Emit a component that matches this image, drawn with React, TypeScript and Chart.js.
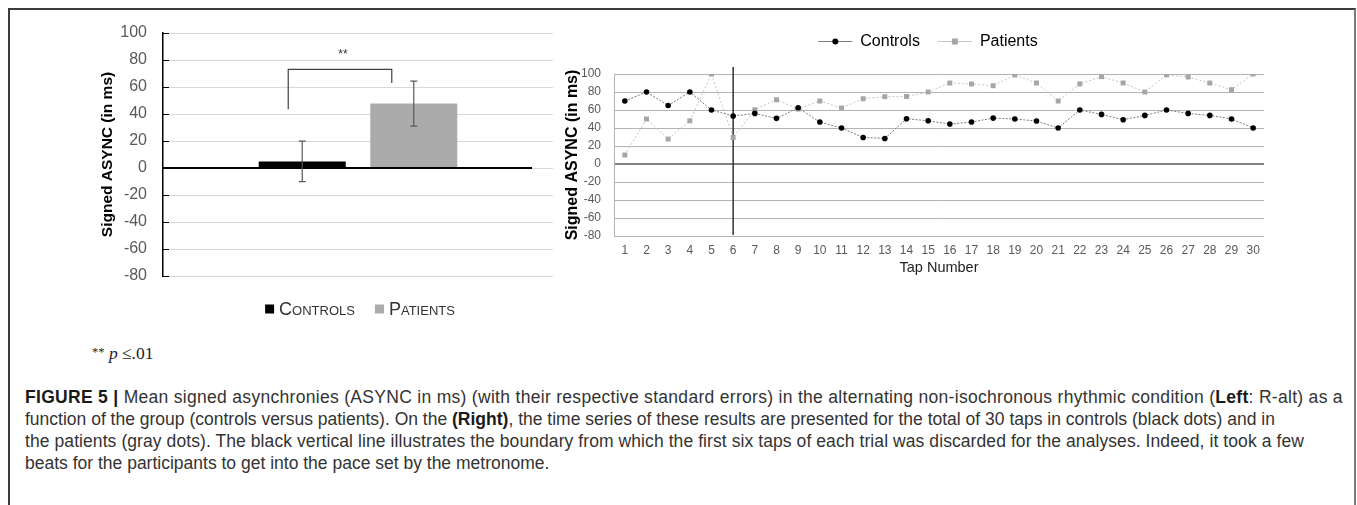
import React, { useEffect, useRef } from 'react';
import { Chart, registerables } from 'chart.js';

Chart.register(...registerables);

const FAM = '"Liberation Sans", Arial, sans-serif';

// ---- Left chart data ----
const groupLabels = ['Controls', 'Patients'];
const groupMeans = [4.9, 47.7];
const groupErrors = [15, 16.7];
const groupColors = ['#000000', '#ababab'];
const leftMin = -80;
const leftMax = 100;
const leftStep = 20;
const bracketTopValue = 73;
const bracketLeftEndValue = 43.5;
const bracketRightEndValue = 63;
const starsValue = 84;

// ---- Right chart data ----
const tapLabels = ['1', '2', '3', '4', '5', '6', '7', '8', '9', '10', '11', '12', '13', '14', '15', '16', '17', '18', '19', '20', '21', '22', '23', '24', '25', '26', '27', '28', '29', '30'];
const controlsAsync = [70, 80, 65, 80, 60, 53.3, 56.2, 50.7, 62.5, 46.6, 40, 29.5, 28.4, 50.3, 48, 44.4, 46.6, 51, 50, 47.7, 40, 60, 55.1, 49.2, 54, 60, 56.2, 54, 50, 40];
const patientsAsync = [10, 50, 27.7, 48, 100, 29.5, 60.3, 71.4, 61, 70, 62.2, 72.5, 74.8, 75, 80, 90, 88.9, 87, 98.9, 90, 70, 89, 97, 90, 80, 99, 96.7, 90, 82.6, 100];
const boundaryTap = '6';

const seriesLine = ['#7a7a7a', '#c4c4c4'];
const seriesMark = ['#000000', '#a6a6a6'];

const leftDecor = {
  id: 'leftDecor',
  afterDatasetsDraw(chart: any) {
    const { ctx, chartArea } = chart;
    const y = chart.scales.y;
    ctx.save();
    ctx.strokeStyle = '#000';
    ctx.lineWidth = 1;
    y.ticks.forEach((t: any) => {
      const py = Math.round(y.getPixelForValue(t.value)) + 0.5;
      ctx.beginPath();
      ctx.moveTo(chartArea.left, py);
      ctx.lineTo(chartArea.left + 6, py);
      ctx.stroke();
    });
    const y0 = y.getPixelForValue(0);
    ctx.lineWidth = 2;
    ctx.beginPath();
    ctx.moveTo(chartArea.left, y0);
    ctx.lineTo(chartArea.right - 21, y0);
    ctx.stroke();
    ctx.strokeStyle = '#595959';
    ctx.lineWidth = 1.2;
    chart.data.datasets.forEach((_ds: any, i: number) => {
      const bar = chart.getDatasetMeta(i).data[0];
      const x = bar.x;
      const hi = y.getPixelForValue(groupMeans[i] + groupErrors[i]);
      const lo = y.getPixelForValue(groupMeans[i] - groupErrors[i]);
      ctx.beginPath();
      ctx.moveTo(x, hi);
      ctx.lineTo(x, lo);
      ctx.moveTo(x - 3.5, hi);
      ctx.lineTo(x + 3.5, hi);
      ctx.moveTo(x - 3.5, lo);
      ctx.lineTo(x + 3.5, lo);
      ctx.stroke();
    });
    const b0 = chart.getDatasetMeta(0).data[0];
    const b1 = chart.getDatasetMeta(1).data[0];
    const xl = b0.x - 14;
    const xr = b1.x - 22;
    ctx.strokeStyle = '#404040';
    ctx.lineWidth = 1.2;
    ctx.beginPath();
    ctx.moveTo(xl, y.getPixelForValue(bracketLeftEndValue));
    ctx.lineTo(xl, y.getPixelForValue(bracketTopValue));
    ctx.lineTo(xr, y.getPixelForValue(bracketTopValue));
    ctx.lineTo(xr, y.getPixelForValue(bracketRightEndValue));
    ctx.stroke();
    ctx.fillStyle = '#333';
    ctx.font = '12px ' + FAM;
    ctx.textAlign = 'center';
    ctx.textBaseline = 'middle';
    ctx.fillText('**', (xl + xr) / 2 + 3, y.getPixelForValue(starsValue));
    ctx.restore();
  },
  afterDraw(chart: any) {
    const { ctx, chartArea } = chart;
    ctx.save();
    ctx.font = 'small-caps 18px ' + FAM;
    try { (ctx as any).fontVariantCaps = 'small-caps'; } catch (e) { /* ignore */ }
    const widths = groupLabels.map((l) => ctx.measureText(l).width);
    const box = 9;
    const gap = 5;
    const between = 20;
    const total = widths.reduce((a, w) => a + box + gap + w, 0) + between * (groupLabels.length - 1);
    let x = (chartArea.left + chartArea.right) / 2 + 2 - total / 2;
    const ly = chartArea.bottom + 33;
    ctx.textBaseline = 'middle';
    ctx.textAlign = 'left';
    groupLabels.forEach((l, i) => {
      ctx.fillStyle = groupColors[i];
      ctx.fillRect(x, ly - 4.5, box, box);
      ctx.fillStyle = '#333';
      ctx.fillText(l, x + box + gap, ly + 1);
      x += box + gap + widths[i] + between;
    });
    ctx.restore();
  },
};

const rightDecor = {
  id: 'rightDecor',
  beforeDatasetsDraw(chart: any) {
    const { ctx, chartArea } = chart;
    const x = chart.scales.x.getPixelForValue(tapLabels.indexOf(boundaryTap));
    ctx.save();
    ctx.strokeStyle = '#333';
    ctx.lineWidth = 1.5;
    ctx.beginPath();
    ctx.moveTo(x, chartArea.top - 7);
    ctx.lineTo(x, chartArea.bottom - 1);
    ctx.stroke();
    ctx.restore();
  },
  afterDraw(chart: any) {
    const { ctx, chartArea } = chart;
    const labels = chart.data.datasets.map((d: any) => d.label as string);
    ctx.save();
    ctx.font = '16px ' + FAM;
    const widths = labels.map((l: string) => ctx.measureText(l).width);
    const sym = 34;
    const gap = 8;
    const between = 18;
    const total = widths.reduce((a: number, w: number) => a + sym + gap + w, 0) + between * (labels.length - 1);
    let x = (chartArea.left + chartArea.right) / 2 - 11 - total / 2;
    const ly = 21;
    ctx.textBaseline = 'middle';
    ctx.textAlign = 'left';
    labels.forEach((l: string, i: number) => {
      ctx.strokeStyle = seriesLine[i];
      ctx.lineWidth = 1;
      ctx.beginPath();
      ctx.moveTo(x, ly + 0.5);
      ctx.lineTo(x + sym, ly + 0.5);
      ctx.stroke();
      ctx.fillStyle = seriesMark[i];
      if (i === 0) {
        ctx.beginPath();
        ctx.arc(x + sym / 2, ly + 0.5, 3, 0, Math.PI * 2);
        ctx.fill();
      } else {
        ctx.fillRect(x + sym / 2 - 3, ly - 2.5, 6, 6);
      }
      ctx.fillStyle = '#000';
      ctx.fillText(l, x + sym + gap, ly + 1);
      x += sym + gap + widths[i] + between;
    });
    ctx.restore();
  },
};

export default function App() {
  const leftRef = useRef<HTMLCanvasElement | null>(null);
  const rightRef = useRef<HTMLCanvasElement | null>(null);

  useEffect(() => {
    Chart.defaults.font.family = FAM;
    const left = new Chart(leftRef.current as HTMLCanvasElement, {
      type: 'bar',
      data: {
        labels: [''],
        datasets: groupLabels.map((g, i) => ({
          label: g,
          data: [groupMeans[i]],
          backgroundColor: groupColors[i],
          borderWidth: 0,
          categoryPercentage: 0.572,
          barPercentage: 0.78,
        })),
      },
      options: {
        responsive: true,
        maintainAspectRatio: false,
        animation: false,
        layout: { padding: { left: 0, right: 7, top: 13, bottom: 44 } },
        plugins: { legend: { display: false }, tooltip: { enabled: false } },
        scales: {
          x: { display: false },
          y: {
            min: leftMin,
            max: leftMax,
            ticks: { stepSize: leftStep, color: '#595959', font: { size: 16, family: FAM, lineHeight: 1 }, padding: 2 },
            grid: { color: '#d9d9d9', tickLength: 14, tickColor: 'rgba(0,0,0,0)' },
            border: { color: '#000', width: 1.5 },
            title: {
              display: true,
              text: 'Signed ASYNC (in ms)',
              color: '#000',
              font: { size: 15.5, weight: 'bold', family: FAM },
              padding: { top: 8, bottom: 0 },
            },
            afterFit: (s: any) => { s.width = 73; },
          },
        },
      } as any,
      plugins: [leftDecor],
    });

    const right = new Chart(rightRef.current as HTMLCanvasElement, {
      type: 'line',
      data: {
        labels: tapLabels,
        datasets: [
          {
            label: 'Controls',
            data: controlsAsync,
            borderColor: seriesLine[0],
            borderWidth: 1,
            borderDash: [2, 1.5],
            pointRadius: 2.8,
            pointBackgroundColor: seriesMark[0],
            pointBorderWidth: 0,
            tension: 0,
          },
          {
            label: 'Patients',
            data: patientsAsync,
            borderColor: seriesLine[1],
            borderWidth: 1,
            borderDash: [2, 2],
            pointStyle: 'rect',
            pointRadius: 3.5,
            pointBackgroundColor: seriesMark[1],
            pointBorderWidth: 0,
            tension: 0,
          },
        ],
      },
      options: {
        responsive: true,
        maintainAspectRatio: false,
        animation: false,
        layout: { padding: { left: 0, right: 16, top: 54, bottom: 0 } },
        plugins: { tooltip: { enabled: false }, legend: { display: false } },
        scales: {
          x: {
            type: 'category',
            offset: true,
            grid: { display: false, drawTicks: false },
            border: { display: false },
            ticks: { color: '#595959', font: { size: 12, family: FAM }, padding: 7, autoSkip: false, maxRotation: 0 },
            title: {
              display: true,
              text: 'Tap Number',
              color: '#222',
              font: { size: 14.5, family: FAM },
              padding: { top: 0, bottom: 13 },
            },
            afterFit: (s: any) => { s.height = 54; },
          },
          y: {
            min: leftMin,
            max: leftMax,
            ticks: { stepSize: leftStep, color: '#595959', font: { size: 12, family: FAM }, padding: 5 },
            grid: {
              color: (c: any) => (c.tick && c.tick.value === 0 ? '#808080' : '#b3b3b3'),
              lineWidth: (c: any) => (c.tick && c.tick.value === 0 ? 2 : 1),
              tickLength: 8,
              tickColor: 'rgba(0,0,0,0)',
            },
            border: { color: '#b3b3b3' },
            title: {
              display: true,
              text: 'Signed ASYNC (in ms)',
              color: '#000',
              font: { size: 16, weight: 'bold', family: FAM },
              padding: { top: 3, bottom: 0 },
            },
            afterFit: (s: any) => { s.width = 54; },
          },
        },
      } as any,
      plugins: [rightDecor],
    });

    return () => {
      left.destroy();
      right.destroy();
    };
  }, []);

  const captionLine = (ls: number): React.CSSProperties => ({
    whiteSpace: 'nowrap',
    height: 22,
    lineHeight: '22px',
    letterSpacing: ls + 'px',
  });
  const strong: React.CSSProperties = { color: '#1a1a1a' };

  return (
    <div style={{ position: 'relative', width: 1357, height: 505, overflow: 'hidden', background: '#fff' }}>
      <style>{'html,body{margin:0;padding:0;overflow:hidden;background:#fff}'}</style>
      <div
        style={{
          position: 'absolute',
          left: 8,
          top: 8,
          width: 1348,
          height: 520,
          boxSizing: 'border-box',
          borderTop: '2px solid #3c3c3c',
          borderLeft: '2px solid #3c3c3c',
          borderRight: '2px solid #7a7a7a',
        }}
      />
      <div style={{ position: 'absolute', left: 90, top: 20, width: 470, height: 300 }}>
        <canvas ref={leftRef} />
      </div>
      <div style={{ position: 'absolute', left: 560, top: 20, width: 720, height: 270 }}>
        <canvas ref={rightRef} />
      </div>
      <div
        style={{
          position: 'absolute',
          left: 92,
          top: 343,
          fontFamily: '"Liberation Serif", "Times New Roman", serif',
          fontSize: 17.5,
          lineHeight: '20px',
          color: '#222',
          whiteSpace: 'nowrap',
        }}
      >
        <span style={{ fontSize: 12.5, position: 'relative', top: -3 }}>**</span> <i>p</i> ≤.01
      </div>
      <div
        style={{
          position: 'absolute',
          left: 25,
          top: 386,
          fontFamily: FAM,
          fontSize: 17.5,
          color: '#333',
        }}
      >
        <div style={captionLine(0.3)}>
          <b style={strong}>FIGURE 5 |</b> Mean signed asynchronies (ASYNC in ms) (with their respective standard errors) in the alternating non-isochronous rhythmic condition (<b style={strong}>Left</b>: R-alt) as a
        </div>
        <div style={captionLine(0)}>
          function of the group (controls versus patients). On the <b style={strong}>(Right)</b>, the time series of these results are presented for the total of 30 taps in controls (black dots) and in
        </div>
        <div style={captionLine(0.08)}>
          the patients (gray dots). The black vertical line illustrates the boundary from which the first six taps of each trial was discarded for the analyses. Indeed, it took a few
        </div>
        <div style={captionLine(0)}>beats for the participants to get into the pace set by the metronome.</div>
      </div>
    </div>
  );
}
